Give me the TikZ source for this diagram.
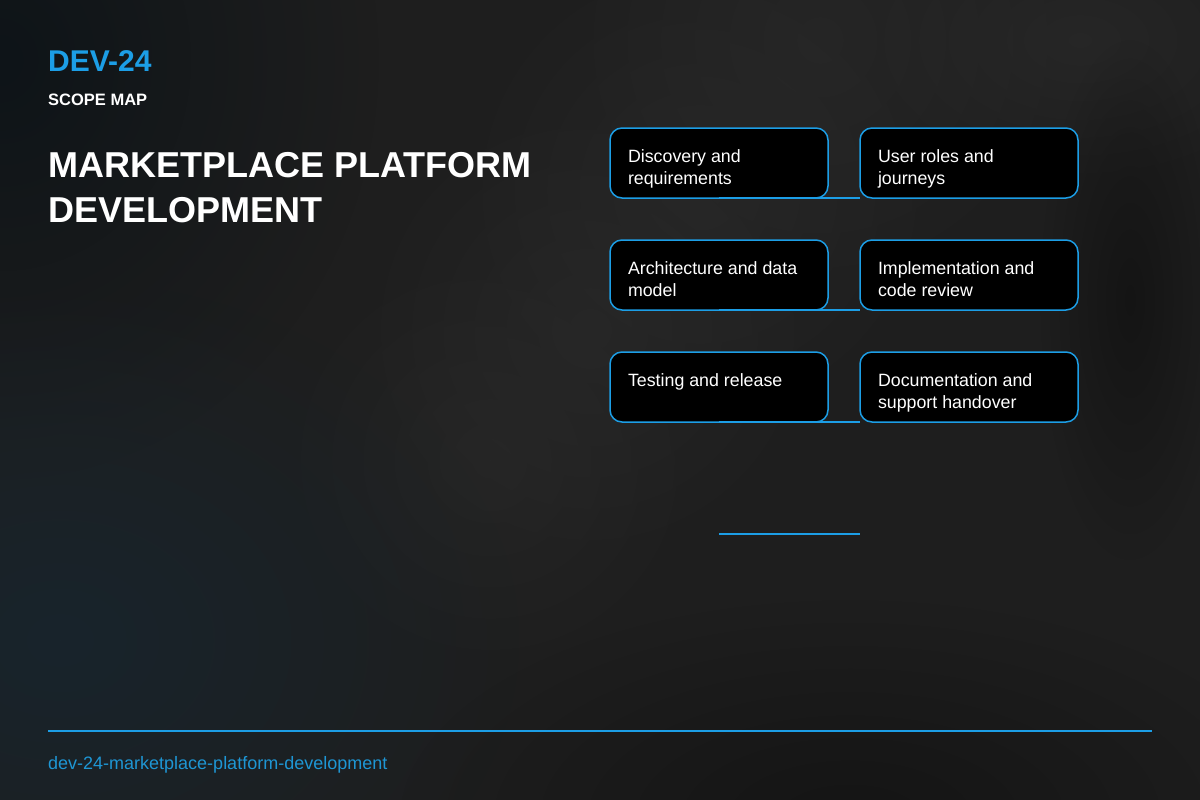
\documentclass[tikz,border=0pt]{standalone}
\usepackage{fontspec}
\setmainfont{Liberation Sans}
\usetikzlibrary{fadings}
\definecolor{accent}{RGB}{28,158,230}
\definecolor{accentdk}{RGB}{30,150,212}
\definecolor{bgbase}{RGB}{30,30,30}
\definecolor{bgtl}{RGB}{14,20,24}
\definecolor{bgbl}{RGB}{24,36,44}
\definecolor{bglight}{RGB}{44,44,44}
\definecolor{bgdark}{RGB}{18,18,18}
\tikzfading[name=softglow, inner color=transparent!0, outer color=transparent!100]
\tikzset{
  card/.style={draw=accent, line width=1.5pt, fill=black, rounded corners=12pt,
    inner sep=0pt, outer sep=0pt, minimum width=218pt, minimum height=70pt, anchor=north west,
    text=white, font=\fontsize{17.8}{22}\selectfont},
  conn/.style={draw=accent, line width=2pt},
  glow/.style={path fading=softglow},
}
\newcommand{\cardtext}[1]{\parbox[c][70pt][t]{182pt}{\raggedright\setlength\baselineskip{22pt}\rule{0pt}{34pt}#1}}
\begin{document}
\begin{tikzpicture}[x=1pt,y=-1pt]
\useasboundingbox (0,0) rectangle (1200,800);
% background
\fill[bgbase] (0,0) rectangle (1200,800);
\fill[bglight, glow, opacity=0.55] (820,40) circle (260);
\fill[bglight, glow, opacity=0.55] (700,190) circle (250);
\fill[bglight, glow, opacity=0.55] (590,330) circle (240);
\fill[bglight, glow, opacity=0.5] (490,460) circle (220);
\fill[bglight, glow, opacity=0.6] (1080,40) ellipse (240 and 150);
\fill[bgtl, glow] (0,60) ellipse (380 and 420);
\fill[bgbl, glow] (60,640) ellipse (460 and 360);
\fill[bgdark, glow, opacity=0.8] (1130,300) ellipse (90 and 260);
\fill[bgdark, glow, opacity=0.8] (850,820) ellipse (450 and 220);
% header texts
\node[anchor=base west, inner sep=0pt, text=accent, font=\bfseries\fontsize{30}{36}\selectfont] (code) at (48,72) {DEV-24};
\node[anchor=base west, inner sep=0pt, text=white, font=\bfseries\fontsize{16.5}{20}\selectfont] (sub) at (48,105) {SCOPE MAP};
\node[anchor=base west, inner sep=0pt, text=white, align=left, font=\bfseries\fontsize{36}{45}\selectfont] (title) at (48,222) {MARKETPLACE PLATFORM\\DEVELOPMENT};
% cards
\node[card] (b1) at (610,128) {\cardtext{Discovery and requirements}};
\node[card] (b2) at (860,128) {\cardtext{User roles and journeys}};
\node[card] (b3) at (610,240) {\cardtext{Architecture and data model}};
\node[card] (b4) at (860,240) {\cardtext{Implementation and code review}};
\node[card] (b5) at (610,352) {\cardtext{Testing and release}};
\node[card] (b6) at (860,352) {\cardtext{Documentation and support handover}};
% connectors
\draw[conn] (b1.south) -- (b2.south west);
\draw[conn] (b3.south) -- (b4.south west);
\draw[conn] (b5.south) -- (b6.south west);
\coordinate (c1) at (719,534);
\coordinate (c2) at (860,534);
\draw[conn] (c1) -- (c2);
% footer
\coordinate (f1) at (48,731);
\coordinate (f2) at (1152,731);
\draw[accent, line width=1.8pt] (f1) -- (f2);
\node[anchor=base west, inner sep=0pt, text=accentdk, font=\fontsize{18}{21}\selectfont] (slug) at (48,769) {dev-24-marketplace-platform-development};
\end{tikzpicture}
\end{document}
